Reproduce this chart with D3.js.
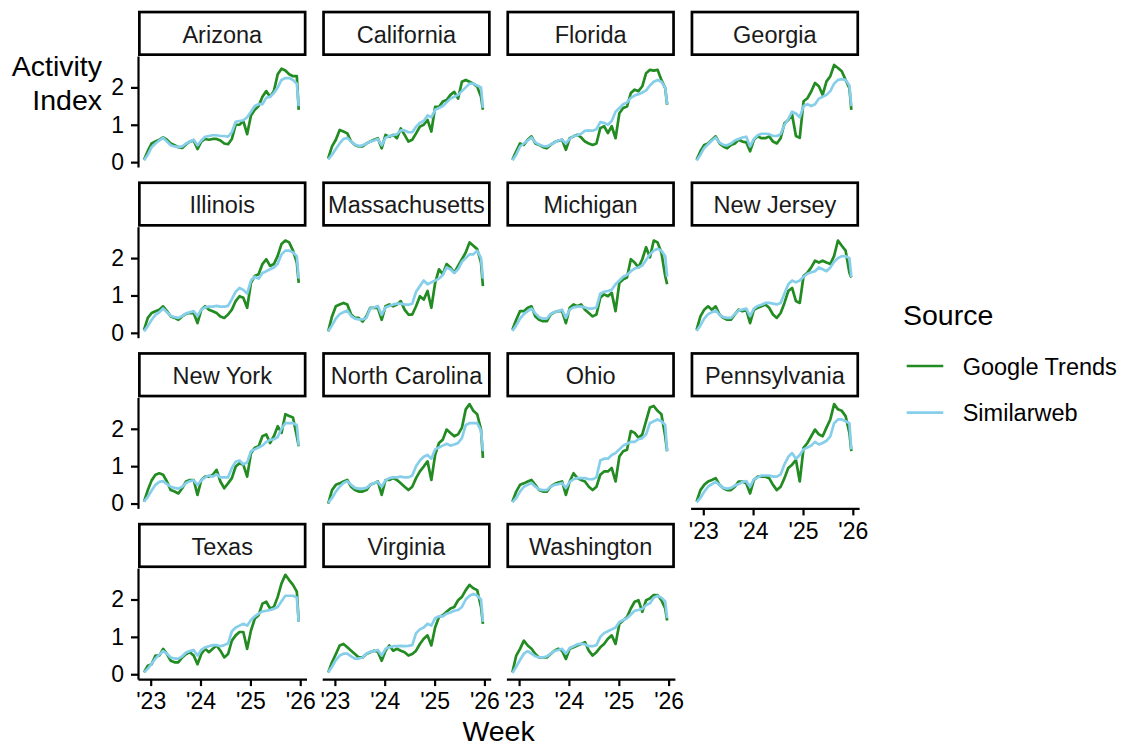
<!DOCTYPE html>
<html>
<head>
<meta charset="utf-8">
<script src="https://cdn.jsdelivr.net/npm/d3@7"></script>
<style>
  body { margin: 0; background: #fff; }
  svg { display: block; }
  text { font-family: "Liberation Sans", Arial, Helvetica, sans-serif; }
</style>
</head>
<body>
<svg id="chart" width="1123" height="747"></svg>
<script>
// weeks since the first observed week, sampled every 4 weeks
const firstWeek = new Date(2022, 10, 13);
const weekOffsets = [0, 4, 8, 12, 16, 20, 24, 28, 32, 36, 40, 44, 48, 52, 56, 60, 64, 68, 72, 76,
  80, 84, 88, 92, 96, 100, 104, 108, 112, 116, 120, 124, 128, 132, 136, 140, 144, 148, 152, 156, 160, 162];

const states = ["Arizona", "California", "Florida", "Georgia", "Illinois", "Massachusetts", "Michigan",
  "New Jersey", "New York", "North Carolina", "Ohio", "Pennsylvania", "Texas", "Virginia", "Washington"];

const sources = ["Google Trends", "Similarweb"];
const sourceColors = ["#228B22", "#87CEEB"];

const yTicks = [0, 1, 2];
const xTickDates = [new Date(2023, 0, 1), new Date(2024, 0, 1), new Date(2025, 0, 1), new Date(2026, 0, 1)];
const xTickLabels = ["'23", "'24", "'25", "'26"];

// Google Trends
const arizonaGoogle = [0.06,0.30,0.50,0.55,0.60,0.66,0.60,0.50,0.45,0.40,0.38,0.48,0.55,0.58,0.35,0.55,0.62,0.60,0.62,0.62,0.58,0.50,0.48,0.62,1.00,1.00,1.10,0.75,1.25,1.40,1.50,1.75,1.90,1.75,1.90,2.35,2.50,2.45,2.35,2.30,2.30,1.40];
const californiaGoogle = [0.10,0.42,0.60,0.86,0.82,0.77,0.55,0.46,0.42,0.42,0.50,0.55,0.60,0.64,0.37,0.73,0.68,0.73,0.64,0.90,0.73,0.55,0.60,0.77,0.95,1.00,1.13,0.82,1.48,1.48,1.62,1.66,1.80,1.88,1.70,2.15,2.20,2.15,2.10,2.02,1.75,1.40];
const floridaGoogle = [0.06,0.29,0.50,0.46,0.60,0.69,0.50,0.46,0.40,0.37,0.46,0.53,0.57,0.60,0.33,0.64,0.69,0.73,0.66,0.55,0.50,0.46,0.50,0.91,0.96,0.78,0.96,0.64,1.31,1.45,1.49,1.85,1.94,1.90,2.03,2.38,2.47,2.45,2.47,2.20,1.98,1.54];
const georgiaGoogle = [0.06,0.29,0.46,0.50,0.60,0.69,0.50,0.42,0.37,0.46,0.50,0.60,0.55,0.53,0.29,0.60,0.69,0.64,0.64,0.69,0.55,0.50,0.64,1.04,1.13,1.27,0.70,0.65,1.63,1.71,1.89,2.12,2.03,1.80,2.16,2.30,2.60,2.52,2.43,2.20,1.98,1.40];
const illinoisGoogle = [0.08,0.40,0.53,0.58,0.62,0.71,0.58,0.44,0.40,0.35,0.44,0.51,0.53,0.53,0.26,0.62,0.71,0.62,0.58,0.53,0.44,0.40,0.49,0.62,0.85,0.98,0.94,0.67,1.34,1.52,1.57,1.84,1.97,1.79,1.84,2.06,2.38,2.47,2.42,2.20,1.88,1.34];
const massachusettsGoogle = [0.04,0.44,0.71,0.76,0.80,0.76,0.49,0.40,0.40,0.30,0.44,0.67,0.67,0.67,0.35,0.71,0.76,0.71,0.76,0.85,0.62,0.49,0.49,0.71,0.98,0.89,1.12,0.67,1.34,1.70,1.57,1.84,1.75,1.61,1.79,1.97,2.15,2.42,2.33,2.24,1.88,1.25];
const michiganGoogle = [0.08,0.35,0.58,0.58,0.67,0.71,0.44,0.35,0.31,0.31,0.49,0.55,0.58,0.58,0.26,0.67,0.76,0.71,0.76,0.62,0.53,0.44,0.49,0.94,1.03,0.98,1.07,0.58,1.34,1.43,1.48,1.97,1.88,1.75,1.97,2.29,2.02,2.47,2.42,2.15,1.52,1.30];
const newJerseyGoogle = [0.08,0.44,0.62,0.71,0.62,0.71,0.49,0.40,0.35,0.35,0.49,0.62,0.58,0.62,0.26,0.62,0.67,0.71,0.76,0.67,0.49,0.40,0.53,0.80,1.12,1.20,0.85,0.80,1.52,1.61,1.75,1.93,1.88,1.93,1.88,1.84,2.06,2.47,2.33,2.20,1.61,1.48];
const newYorkGoogle = [0.05,0.36,0.62,0.77,0.81,0.77,0.59,0.36,0.32,0.27,0.41,0.59,0.63,0.63,0.23,0.63,0.72,0.72,0.77,0.90,0.59,0.41,0.54,0.68,0.99,1.08,1.04,0.72,1.35,1.49,1.53,1.80,1.85,1.62,1.80,2.07,1.89,2.39,2.34,2.30,1.80,1.53];
const northCarolinaGoogle = [0.00,0.36,0.50,0.54,0.59,0.63,0.45,0.36,0.32,0.32,0.36,0.50,0.54,0.59,0.23,0.63,0.63,0.68,0.63,0.54,0.45,0.36,0.45,0.68,0.86,0.99,1.13,0.63,1.31,1.62,1.71,1.98,1.89,1.80,1.85,2.03,2.52,2.66,2.48,2.39,1.98,1.22];
const ohioGoogle = [0.05,0.32,0.50,0.54,0.59,0.63,0.50,0.36,0.32,0.32,0.45,0.52,0.56,0.59,0.23,0.59,0.81,0.68,0.63,0.59,0.45,0.36,0.45,0.77,0.86,0.86,0.95,0.59,1.26,1.40,1.44,1.94,1.89,1.76,1.85,2.21,2.57,2.61,2.48,2.39,1.80,1.40];
const pennsylvaniaGoogle = [0.05,0.36,0.50,0.59,0.63,0.68,0.50,0.41,0.36,0.36,0.45,0.59,0.59,0.54,0.27,0.63,0.72,0.72,0.72,0.68,0.50,0.36,0.45,0.68,0.95,1.04,1.17,0.59,1.49,1.62,1.80,1.98,1.85,1.80,2.03,2.25,2.66,2.52,2.48,2.34,1.89,1.40];
const texasGoogle = [0.05,0.23,0.27,0.50,0.50,0.68,0.54,0.36,0.32,0.32,0.45,0.54,0.59,0.50,0.27,0.54,0.68,0.59,0.68,0.77,0.63,0.45,0.54,0.90,1.04,1.13,1.13,0.68,1.17,1.49,1.58,1.89,1.94,1.76,1.80,2.07,2.43,2.66,2.52,2.39,2.21,1.40];
const virginiaGoogle = [0.05,0.32,0.54,0.77,0.81,0.72,0.63,0.54,0.45,0.45,0.54,0.59,0.63,0.60,0.36,0.63,0.77,0.63,0.68,0.63,0.59,0.50,0.54,0.63,0.81,0.95,1.04,0.77,1.26,1.53,1.58,1.67,1.76,1.80,1.98,2.07,2.25,2.39,2.30,2.25,1.80,1.35];
const washingtonGoogle = [0.05,0.50,0.68,0.90,0.77,0.68,0.54,0.45,0.45,0.45,0.54,0.63,0.68,0.63,0.41,0.68,0.72,0.77,0.81,0.86,0.63,0.50,0.59,0.72,0.81,0.95,1.04,0.81,1.35,1.44,1.53,1.76,1.94,1.98,1.67,1.98,2.03,2.12,2.12,1.98,1.76,1.44];

// Similarweb
const arizonaSimilar = [0.05,0.20,0.40,0.50,0.58,0.65,0.55,0.45,0.42,0.40,0.42,0.50,0.55,0.60,0.45,0.58,0.68,0.70,0.72,0.72,0.70,0.70,0.68,0.80,1.08,1.10,1.12,1.20,1.35,1.50,1.55,1.55,1.72,1.75,1.85,2.00,2.20,2.25,2.25,2.20,2.10,1.50];
const californiaSimilar = [0.07,0.20,0.35,0.50,0.62,0.65,0.55,0.47,0.43,0.45,0.50,0.55,0.58,0.62,0.45,0.65,0.70,0.72,0.75,0.85,0.85,0.80,0.80,0.95,1.05,1.10,1.25,1.20,1.40,1.45,1.50,1.60,1.70,1.75,1.80,1.90,2.00,2.10,2.10,2.05,2.00,1.45];
const floridaSimilar = [0.05,0.20,0.42,0.50,0.58,0.66,0.53,0.47,0.43,0.42,0.47,0.52,0.58,0.60,0.50,0.62,0.70,0.72,0.76,0.84,0.85,0.84,0.88,1.07,1.05,1.00,1.10,1.35,1.45,1.55,1.60,1.72,1.78,1.82,1.86,1.92,2.05,2.15,2.20,2.15,2.00,1.55];
const georgiaSimilar = [0.04,0.20,0.38,0.48,0.58,0.66,0.52,0.46,0.45,0.50,0.58,0.62,0.66,0.68,0.42,0.62,0.72,0.76,0.76,0.75,0.70,0.70,0.75,1.00,1.15,1.35,1.30,1.20,1.50,1.55,1.50,1.55,1.70,1.75,1.80,1.90,2.10,2.20,2.22,2.20,2.05,1.50];
const illinoisSimilar = [0.04,0.18,0.35,0.48,0.55,0.65,0.55,0.45,0.42,0.40,0.45,0.52,0.55,0.58,0.45,0.62,0.68,0.70,0.70,0.72,0.70,0.70,0.72,0.90,1.10,1.20,1.15,1.05,1.40,1.50,1.45,1.60,1.65,1.70,1.75,1.85,2.10,2.20,2.20,2.15,2.05,1.45];
const massachusettsSimilar = [0.04,0.20,0.38,0.50,0.55,0.60,0.45,0.38,0.36,0.36,0.40,0.65,0.68,0.72,0.48,0.68,0.72,0.76,0.78,0.78,0.76,0.75,0.78,1.10,1.25,1.40,1.30,1.35,1.40,1.45,1.55,1.75,1.70,1.60,1.70,1.90,2.00,2.10,2.10,2.20,2.00,1.45];
const michiganSimilar = [0.05,0.20,0.38,0.50,0.58,0.65,0.52,0.42,0.38,0.38,0.50,0.55,0.58,0.62,0.40,0.62,0.68,0.70,0.70,0.68,0.65,0.65,0.68,1.05,1.10,1.12,1.15,1.30,1.40,1.50,1.55,1.65,1.72,1.75,1.80,1.95,2.10,2.20,2.25,2.20,2.05,1.50];
const newJerseySimilar = [0.05,0.20,0.38,0.50,0.55,0.60,0.48,0.42,0.40,0.40,0.50,0.60,0.62,0.65,0.45,0.65,0.72,0.75,0.80,0.80,0.78,0.76,0.80,1.05,1.30,1.40,1.35,1.40,1.50,1.58,1.62,1.65,1.75,1.70,1.65,1.75,1.90,2.00,2.05,2.05,2.00,1.50];
const newYorkSimilar = [0.05,0.18,0.35,0.50,0.58,0.60,0.52,0.45,0.42,0.40,0.45,0.55,0.60,0.62,0.50,0.62,0.70,0.75,0.72,0.78,0.70,0.70,0.70,0.95,1.12,1.15,1.05,1.10,1.40,1.45,1.50,1.55,1.65,1.70,1.72,1.78,2.00,2.15,2.15,2.15,2.10,1.55];
const northCarolinaSimilar = [0.02,0.15,0.32,0.45,0.55,0.60,0.50,0.42,0.40,0.40,0.42,0.50,0.55,0.58,0.45,0.62,0.68,0.70,0.70,0.72,0.70,0.70,0.75,1.00,1.15,1.25,1.30,1.20,1.45,1.50,1.55,1.60,1.55,1.58,1.62,1.75,2.10,2.15,2.15,2.15,1.95,1.40];
const ohioSimilar = [0.03,0.15,0.32,0.45,0.50,0.55,0.45,0.38,0.36,0.36,0.45,0.50,0.52,0.55,0.42,0.58,0.65,0.68,0.68,0.68,0.65,0.65,0.70,1.15,1.20,1.20,1.30,1.35,1.45,1.55,1.60,1.65,1.65,1.72,1.75,1.85,2.15,2.20,2.25,2.20,2.10,1.40];
const pennsylvaniaSimilar = [0.03,0.15,0.32,0.45,0.52,0.58,0.50,0.42,0.40,0.42,0.48,0.52,0.58,0.60,0.45,0.65,0.70,0.75,0.75,0.75,0.72,0.72,0.78,1.05,1.25,1.35,1.20,1.30,1.45,1.50,1.55,1.65,1.58,1.62,1.68,1.80,2.15,2.25,2.25,2.20,2.15,1.45];
const texasSimilar = [0.05,0.15,0.28,0.42,0.52,0.62,0.55,0.45,0.42,0.42,0.48,0.58,0.62,0.65,0.50,0.65,0.72,0.75,0.78,0.78,0.75,0.78,0.82,1.15,1.25,1.30,1.35,1.30,1.45,1.55,1.62,1.68,1.70,1.72,1.75,1.80,1.95,2.10,2.10,2.10,2.05,1.40];
const virginiaSimilar = [0.05,0.20,0.38,0.50,0.55,0.55,0.48,0.42,0.42,0.45,0.55,0.60,0.62,0.65,0.50,0.68,0.72,0.75,0.75,0.76,0.75,0.76,0.78,1.10,1.20,1.25,1.35,1.30,1.50,1.55,1.55,1.62,1.65,1.70,1.72,1.80,2.00,2.10,2.15,2.10,2.00,1.40];
const washingtonSimilar = [0.03,0.20,0.38,0.55,0.62,0.55,0.48,0.45,0.45,0.48,0.55,0.62,0.65,0.68,0.55,0.70,0.75,0.80,0.82,0.80,0.75,0.75,0.78,1.00,1.10,1.15,1.20,1.25,1.40,1.45,1.50,1.60,1.70,1.72,1.75,1.85,1.90,2.05,2.10,2.05,1.95,1.50];

const googleSeries = [arizonaGoogle, californiaGoogle, floridaGoogle, georgiaGoogle, illinoisGoogle,
  massachusettsGoogle, michiganGoogle, newJerseyGoogle, newYorkGoogle, northCarolinaGoogle, ohioGoogle,
  pennsylvaniaGoogle, texasGoogle, virginiaGoogle, washingtonGoogle];
const similarSeries = [arizonaSimilar, californiaSimilar, floridaSimilar, georgiaSimilar, illinoisSimilar,
  massachusettsSimilar, michiganSimilar, newJerseySimilar, newYorkSimilar, northCarolinaSimilar, ohioSimilar,
  pennsylvaniaSimilar, texasSimilar, virginiaSimilar, washingtonSimilar];

const weeks = weekOffsets.map(w => d3.timeWeek.offset(firstWeek, w));
const toPoints = vals => vals.map((v, i) => ({ date: weeks[i], value: v }));

const panels = states.map((s, i) => ({
  state: s,
  lines: [toPoints(googleSeries[i]), toPoints(similarSeries[i])]
}));

const svg = d3.select("#chart");

const nCol = 4,
  colStep = 184.2, rowStep = 170.7,
  left0 = 138, top0 = 10.7,
  stripH = 45.3, panelW = 168.5, panelH = 111;

const x = d3.scaleTime()
  .domain([new Date(2022, 8, 30), new Date(2026, 1, 16)])
  .range([0, panelW]);

const y = d3.scaleLinear()
  .domain([-0.13, 2.84])
  .range([panelH, 0]);

const line = d3.line()
  .x(d => x(d.date))
  .y(d => y(d.value));

const lastRowFor = col => Math.floor((states.length - 1 - col) / nCol);

panels.forEach((p, i) => {
  const col = i % nCol, row = Math.floor(i / nCol);
  const g = svg.append("g")
    .attr("transform", `translate(${left0 + col * colStep},${top0 + row * rowStep + stripH})`);

  // strip
  g.append("rect")
    .attr("x", 1.35).attr("y", -stripH + 1.35)
    .attr("width", panelW - 2.7).attr("height", stripH - 2.7)
    .attr("fill", "#fff").attr("stroke", "#000").attr("stroke-width", 2.7);
  g.append("text")
    .attr("x", panelW / 2).attr("y", -13.3)
    .attr("text-anchor", "middle")
    .attr("font-size", 23.5).attr("fill", "#1A1A1A")
    .text(p.state);

  // lines: Google Trends first, Similarweb on top
  p.lines.forEach((pts, k) => {
    g.append("path")
      .datum(pts)
      .attr("d", line)
      .attr("fill", "none")
      .attr("stroke", sourceColors[k])
      .attr("stroke-width", 2.7)
      .attr("stroke-linejoin", "round");
  });

  if (col === 0) {
    const ya = g.append("g")
      .call(d3.axisLeft(y).tickValues(yTicks).tickFormat(d3.format("d"))
        .tickSize(7).tickSizeOuter(0).tickPadding(7));
    ya.select(".domain").attr("stroke-width", 2.2);
    ya.selectAll(".tick line").attr("stroke-width", 2.2);
    ya.selectAll(".tick text").attr("font-size", 23).attr("fill", "#000")
      .attr("font-family", "Liberation Sans, Arial, sans-serif");
  }

  if (row === lastRowFor(col)) {
    const xa = g.append("g")
      .attr("transform", `translate(0,${panelH})`)
      .call(d3.axisBottom(x).tickValues(xTickDates)
        .tickFormat((d, j) => xTickLabels[j]).tickSize(7).tickSizeOuter(0).tickPadding(7));
    xa.select(".domain").attr("stroke-width", 2.2);
    xa.selectAll(".tick line").attr("stroke-width", 2.2);
    xa.selectAll(".tick text").attr("font-size", 23).attr("fill", "#000")
      .attr("font-family", "Liberation Sans, Arial, sans-serif");
  }
});

// axis titles
const yTitle = svg.append("text")
  .attr("text-anchor", "end")
  .attr("font-size", 28.5).attr("fill", "#000");
yTitle.append("tspan").attr("x", 102).attr("y", 76).text("Activity");
yTitle.append("tspan").attr("x", 102).attr("y", 110).text("Index");

svg.append("text")
  .attr("x", left0 + (3 * colStep + panelW) / 2).attr("y", 741)
  .attr("text-anchor", "middle")
  .attr("font-size", 28.5).attr("fill", "#000")
  .text("Week");

// legend
const legend = svg.append("g").attr("transform", "translate(903,0)");
legend.append("text")
  .attr("x", 0).attr("y", 325)
  .attr("font-size", 28.5).attr("fill", "#000")
  .text("Source");

const keyY = d3.scalePoint().domain(sources).range([366, 412.7]);
sources.forEach((s, k) => {
  legend.append("line")
    .attr("x1", 3.7).attr("x2", 40.3)
    .attr("y1", keyY(s)).attr("y2", keyY(s))
    .attr("stroke", sourceColors[k]).attr("stroke-width", 2.7);
  legend.append("text")
    .attr("x", 59.7).attr("y", keyY(s) + 8.5)
    .attr("font-size", 23.5).attr("fill", "#000")
    .text(s);
});
</script>
</body>
</html>
